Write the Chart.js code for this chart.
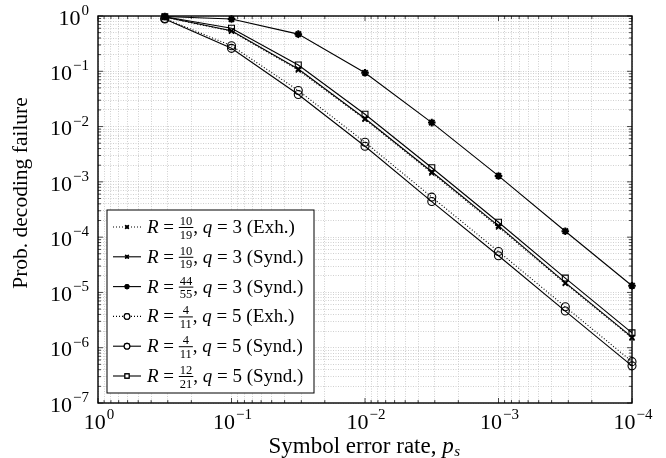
<!DOCTYPE html>
<html>
<head>
<meta charset="utf-8">
<script src="https://cdn.jsdelivr.net/npm/chart.js@4.4.0/dist/chart.umd.min.js"></script>
<style>
  html, body { margin: 0; padding: 0; background: #fff; }
  #wrap { width: 666px; height: 458px; }
</style>
</head>
<body>
<div id="wrap"><canvas id="chart"></canvas></div>
<script>
// symbol error rate p_s (x axis, reversed)
const symbolErrorRate = [0.316, 0.1, 0.0316, 0.01, 0.00316, 0.001, 0.000316, 0.0001];

// probability of decoding failure per code
const r1019Exh   = [0.95, 0.53, 0.105, 0.0135, 1.45e-3, 1.52e-4, 1.45e-5, 1.5e-6];
const r1019Synd  = [0.96, 0.54, 0.11, 0.014, 1.52e-3, 1.6e-4, 1.5e-5, 1.55e-6];
const r4455Synd  = [0.98, 0.88, 0.47, 0.094, 0.0118, 1.28e-3, 1.28e-4, 1.32e-5];
const r411Exh    = [0.9, 0.29, 0.045, 5.2e-3, 5.3e-4, 5.5e-5, 5.5e-6, 5.6e-7];
const r411Synd   = [0.88, 0.26, 0.038, 4.4e-3, 4.4e-4, 4.6e-5, 4.6e-6, 4.7e-7];
const r1221Synd  = [0.97, 0.60, 0.13, 0.0167, 1.8e-3, 1.86e-4, 1.82e-5, 1.86e-6];

// legend pieces: fraction, q, method
const legendFrac = [['10', '19'], ['10', '19'], ['44', '55'], ['4', '11'], ['4', '11'], ['12', '21']];
const legendQ = ['3', '3', '3', '5', '5', '5'];
const legendMethod = ['Exh.', 'Synd.', 'Synd.', 'Exh.', 'Synd.', 'Synd.'];

const xExponents = [0, -1, -2, -3, -4];
const yExponents = [0, -1, -2, -3, -4, -5, -6, -7];

const SERIF = '"Liberation Serif", "DejaVu Serif", serif';

function toPoints(vals) {
    return vals.map((v, i) => ({ x: symbolErrorRate[i], y: v }));
}

function logTicks(minExp, maxExp) {
    const t = [];
    for (let e = minExp; e < maxExp; e++) {
        for (let m = 1; m <= 9; m++) t.push({ value: m * Math.pow(10, e) });
    }
    t.push({ value: Math.pow(10, maxExp) });
    return t;
}

function makeSet(data, style, radius, dotted, markWidth) {
    return {
        data: toPoints(data),
        borderColor: '#000',
        backgroundColor: '#000',
        borderWidth: 1.1,
        borderDash: dotted ? [1, 2] : [],
        pointStyle: style,
        pointRadius: radius,
        pointBorderColor: '#000',
        pointBackgroundColor: (style === 'circle' || style === 'rect') ? 'rgba(0,0,0,0)' : '#000',
        pointBorderWidth: markWidth,
        tension: 0,
        clip: false
    };
}

const datasets = [
    makeSet(r1019Exh, 'crossRot', 3.5, true, 1.5),
    makeSet(r1019Synd, 'crossRot', 3.5, false, 1.5),
    makeSet(r4455Synd, 'star', 3.8, false, 2),
    makeSet(r411Exh, 'circle', 4, true, 1.1),
    makeSet(r411Synd, 'circle', 4, false, 1.1),
    makeSet(r1221Synd, 'rect', 4.2, false, 1.1)
];

// "10" with superscript exponent
function drawPow(ctx, exp, x, y, align) {
    const base = '10';
    const sup = exp === 0 ? '0' : '\u2212' + Math.abs(exp);
    ctx.font = '22px ' + SERIF;
    const wb = ctx.measureText(base).width;
    ctx.font = '15px ' + SERIF;
    const we = ctx.measureText(sup).width;
    const total = wb + we + 1;
    let sx = align === 'right' ? x - total : x - total / 2;
    ctx.textAlign = 'left';
    ctx.textBaseline = 'middle';
    ctx.font = '22px ' + SERIF;
    ctx.fillText(base, sx, y);
    ctx.font = '15px ' + SERIF;
    ctx.fillText(sup, sx + wb + 1, y - 8);
}

// legend row: R = a/b, q = n (method)
function drawLegendRow(ctx, x, y, i) {
    const fs = 19;
    ctx.textBaseline = 'alphabetic';
    ctx.textAlign = 'left';
    const base = y + 6;
    let cx = x;
    ctx.font = 'italic ' + fs + 'px ' + SERIF;
    ctx.fillText('R', cx, base);
    cx += ctx.measureText('R').width;
    ctx.font = fs + 'px ' + SERIF;
    ctx.fillText(' = ', cx, base);
    cx += ctx.measureText(' = ').width;
    // fraction
    ctx.font = '12.5px ' + SERIF;
    const [num, den] = legendFrac[i];
    const fw = Math.max(ctx.measureText(num).width, ctx.measureText(den).width) + 2;
    ctx.textAlign = 'center';
    ctx.fillText(num, cx + fw / 2, y - 2);
    ctx.fillText(den, cx + fw / 2, y + 11.5);
    ctx.fillRect(cx, y, fw, 1);
    cx += fw;
    ctx.textAlign = 'left';
    ctx.font = fs + 'px ' + SERIF;
    ctx.fillText(', ', cx, base);
    cx += ctx.measureText(', ').width;
    ctx.font = 'italic ' + fs + 'px ' + SERIF;
    ctx.fillText('q', cx, base);
    cx += ctx.measureText('q').width;
    ctx.font = fs + 'px ' + SERIF;
    ctx.fillText(' = ' + legendQ[i] + ' (' + legendMethod[i] + ')', cx, base);
}

const texDraw = {
    id: 'texDraw',
    beforeDatasetsDraw(chart) {
        const { ctx, chartArea: a, scales } = chart;
        // small inside ticks
        ctx.save();
        ctx.strokeStyle = '#000';
        ctx.lineWidth = 0.7;
        scales.x.ticks.forEach(t => {
            const px = scales.x.getPixelForValue(t.value);
            const major = Math.abs(Math.log10(t.value) % 1) < 1e-9;
            const len = major ? 5 : 3;
            ctx.beginPath();
            ctx.moveTo(px, a.bottom); ctx.lineTo(px, a.bottom - len);
            ctx.moveTo(px, a.top); ctx.lineTo(px, a.top + len);
            ctx.stroke();
        });
        scales.y.ticks.forEach(t => {
            const py = scales.y.getPixelForValue(t.value);
            const major = Math.abs(Math.log10(t.value) % 1) < 1e-9;
            const len = major ? 5 : 3;
            ctx.beginPath();
            ctx.moveTo(a.left, py); ctx.lineTo(a.left + len, py);
            ctx.moveTo(a.right, py); ctx.lineTo(a.right - len, py);
            ctx.stroke();
        });
        ctx.restore();
    },
    afterDatasetsDraw(chart) {
        const { ctx, chartArea: a, scales } = chart;
        ctx.save();
        // frame
        ctx.strokeStyle = '#000';
        ctx.lineWidth = 1.4;
        ctx.strokeRect(a.left, a.top, a.right - a.left, a.bottom - a.top);

        ctx.fillStyle = '#000';
        yExponents.forEach(e => {
            drawPow(ctx, e, 89, scales.y.getPixelForValue(Math.pow(10, e)) + 3, 'right');
        });
        xExponents.forEach(e => {
            drawPow(ctx, e, scales.x.getPixelForValue(Math.pow(10, e)) + 1, a.bottom + 20, 'center');
        });

        // axis titles
        ctx.save();
        ctx.translate(21, 193);
        ctx.rotate(-Math.PI / 2);
        ctx.font = '21.5px ' + SERIF;
        ctx.textAlign = 'center';
        ctx.textBaseline = 'middle';
        ctx.fillText('Prob. decoding failure', 0, 0);
        ctx.restore();

        const fx = 23;
        ctx.font = fx + 'px ' + SERIF;
        const t1 = 'Symbol error rate, ';
        const w1 = ctx.measureText(t1).width;
        ctx.font = 'italic ' + fx + 'px ' + SERIF;
        const wp = ctx.measureText('p').width;
        ctx.font = 'italic 15px ' + SERIF;
        const ws = ctx.measureText('s').width;
        let sx = 364 - (w1 + wp + ws) / 2;
        ctx.textAlign = 'left';
        ctx.textBaseline = 'alphabetic';
        ctx.font = fx + 'px ' + SERIF;
        ctx.fillText(t1, sx, 453);
        ctx.font = 'italic ' + fx + 'px ' + SERIF;
        ctx.fillText('p', sx + w1, 453);
        ctx.font = 'italic 15px ' + SERIF;
        ctx.fillText('s', sx + w1 + wp + 0.5, 456);

        // legend box
        const lx = 107, ly = 210, lw = 207, lh = 183;
        ctx.fillStyle = '#fff';
        ctx.fillRect(lx, ly, lw, lh);
        ctx.strokeStyle = '#000';
        ctx.lineWidth = 1;
        ctx.strokeRect(lx, ly, lw, lh);
        chart.data.datasets.forEach((ds, i) => {
            const ry = 227 + i * 29.8;
            ctx.strokeStyle = '#000';
            ctx.lineWidth = 1.1;
            ctx.setLineDash(ds.borderDash);
            ctx.beginPath();
            ctx.moveTo(113, ry); ctx.lineTo(141, ry);
            ctx.stroke();
            ctx.setLineDash([]);
            ctx.lineWidth = Math.min(ds.pointBorderWidth, 1.5);
            Chart.helpers.drawPoint(ctx, {
                pointStyle: ds.pointStyle,
                radius: ds.pointRadius * 0.7,
                rotation: 0,
                borderWidth: ctx.lineWidth
            }, 127, ry);
            ctx.fillStyle = ds.pointBackgroundColor === '#000' ? '#000' : '#fff';
            ctx.fill();
            ctx.stroke();
            ctx.fillStyle = '#000';
            drawLegendRow(ctx, 147, ry, i);
        });
        ctx.restore();
    }
};

const gridStyle = {
    color: '#c4c4c4',
    lineWidth: 0.8,
    drawTicks: false
};

new Chart(document.getElementById('chart'), {
    type: 'line',
    data: { datasets: datasets },
    options: {
        responsive: true,
        maintainAspectRatio: false,
        animation: false,
        layout: { padding: { top: 16, right: 34, left: 0, bottom: 0 } },
        plugins: { legend: { display: false }, tooltip: { enabled: false } },
        scales: {
            x: {
                type: 'logarithmic',
                reverse: true,
                min: 1e-4,
                max: 1,
                grid: gridStyle,
                border: { display: false, dash: [1, 1.5] },
                ticks: { display: false },
                afterBuildTicks: s => { s.ticks = logTicks(-4, 0); },
                afterFit: s => { s.height = 55; }
            },
            y: {
                type: 'logarithmic',
                min: 1e-7,
                max: 1,
                grid: gridStyle,
                border: { display: false, dash: [1, 1.5] },
                ticks: { display: false },
                afterBuildTicks: s => { s.ticks = logTicks(-7, 0); },
                afterFit: s => { s.width = 98; }
            }
        }
    },
    plugins: [texDraw]
});
</script>
</body>
</html>
